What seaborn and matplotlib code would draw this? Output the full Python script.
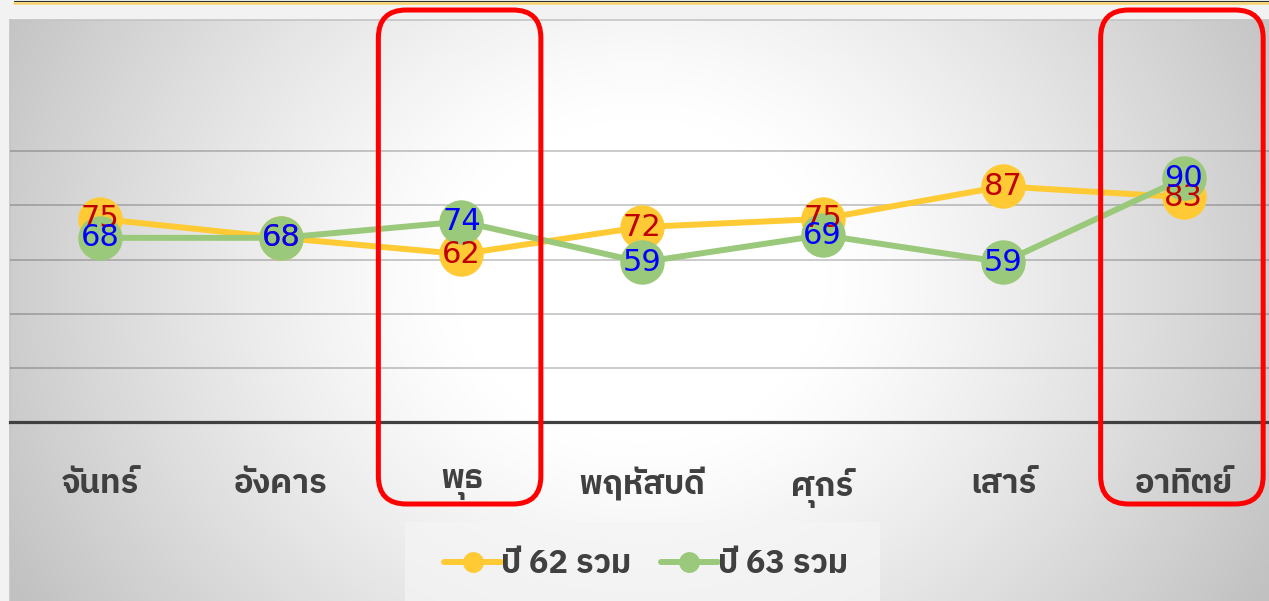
import matplotlib
matplotlib.use("Agg")
import matplotlib.pyplot as plt
import numpy as np
import pandas as pd
import seaborn as sns
from matplotlib import font_manager
from matplotlib.ft2font import FT2Font
from matplotlib.lines import Line2D
from matplotlib.patches import FancyBboxPatch, Rectangle

# data
days = ["จันทร์", "อังคาร", "พุธ", "พฤหัสบดี", "ศุกร์", "เสาร์", "อาทิตย์"]
series_names = ["ปี 62 รวม", "ปี 63 รวม"]
year62 = [75, 68, 62, 72, 75, 87, 83]
year63 = [68, 68, 74, 59, 69, 59, 90]
highlight_days = ["พุธ", "อาทิตย์"]

W, H = 1269, 601
YELLOW = "#ffca33"
GREEN = "#9bc97b"
TEXT = "#404040"


def findThaiFonts():
    names = []
    for f in font_manager.fontManager.ttflist:
        try:
            cmap = FT2Font(f.fname).get_charmap()
        except Exception:
            continue
        if 0x0E1E in cmap and 0x0E2B in cmap and f.name not in names:
            names.append(f.name)
    names.sort(key=lambda n: 0 if "Thai" in n else 1)
    return names


def makeBackground(fig):
    # panel with a soft radial gradient, white in the middle
    bg = fig.add_axes([10 / W, 0, 1 - 10 / W, 1 - 20 / H])
    xs = np.linspace(10, W, 300)
    ys = np.linspace(20, H, 200)
    X, Y = np.meshgrid(xs, ys)
    u = (X - 640) / 630
    v = (Y - 280) / 300 * 0.55
    d = np.sqrt(u ** 2 + v ** 2)
    t = np.clip((d - 0.3) / 0.85, 0, 1) ** 1.2
    g = (255 - 62 * t) / 255
    img = np.dstack([g, g, g])
    bg.imshow(img, extent=[10, W, H, 20], aspect="auto", interpolation="bilinear")
    bg.set_xlim(10, W)
    bg.set_ylim(H, 20)
    bg.set_xticks([])
    bg.set_yticks([])
    for s in ["right", "bottom"]:
        bg.spines[s].set_visible(False)
    for s in ["top", "left"]:
        bg.spines[s].set_color("#c4c4c4")
        bg.spines[s].set_linewidth(1.2)
    # lighter strip behind the legend
    bg.add_patch(Rectangle((405, 522), 475, 80, color="#f5f5f5", lw=0, alpha=0.7))
    return bg


def makeLinePlot(outputName):
    sns.set_theme(style="white")
    thai = findThaiFonts()
    plt.rcParams["font.family"] = thai[:1] + ["DejaVu Sans"]

    fig = plt.figure(figsize=(W / 100, H / 100), dpi=100, facecolor="#f2f2f2")
    fig.add_artist(Line2D([14 / W, 1], [1 - 0.5 / H] * 2, color="#303030", lw=0.8))
    fig.add_artist(Line2D([14 / W, 1], [1 - 2.5 / H] * 2, color="#f7d26a", lw=1.8))
    makeBackground(fig)

    ax = fig.add_axes([10 / W, (H - 422) / H, 1264 / W, (422 - 97) / H])
    ax.set_facecolor("none")

    df = pd.DataFrame({
        "day": days * 2,
        "value": year62 + year63,
        "series": [series_names[0]] * len(days) + [series_names[1]] * len(days),
    })

    sns.lineplot(data=df, x="day", y="value", hue="series",
                 palette=[YELLOW, GREEN], marker="o", markersize=32,
                 markeredgewidth=0, linewidth=4.3, sort=False,
                 legend=False, ax=ax)

    for i, v in enumerate(year62):
        ax.text(i, v, str(v), ha="center", va="center", color="#c00000",
                fontsize=22, family="DejaVu Sans", zorder=5)
    for i, v in enumerate(year63):
        ax.text(i, v, str(v), ha="center", va="center", color="#0000ff",
                fontsize=22, family="DejaVu Sans", zorder=6)

    ax.set_xlim(-0.5, len(days) - 0.5)
    ax.set_ylim(0, 120)
    ax.set_yticks([20, 40, 60, 80, 100])
    ax.set_yticklabels([])
    ax.yaxis.grid(True, color="black", alpha=0.22, lw=1.3)
    ax.set_xlabel("")
    ax.set_ylabel("")
    ax.set_xticks(range(len(days)))
    ax.set_xticklabels(days, fontsize=23.5, color=TEXT, fontweight="bold")
    ax.tick_params(axis="both", length=0)
    ax.tick_params(axis="x", pad=33)
    for s in ["top", "right", "left"]:
        ax.spines[s].set_visible(False)
    ax.spines["bottom"].set_color(TEXT)
    ax.spines["bottom"].set_linewidth(2.3)

    # red highlight boxes round two of the days
    for day in highlight_days:
        i = days.index(day)
        x0 = ax.transData.transform((i - 0.46, 0))[0]
        x1 = ax.transData.transform((i + 0.44, 0))[0]
        box = FancyBboxPatch((x0, H - 504), x1 - x0, 494,
                             boxstyle="round,pad=0,rounding_size=28",
                             fill=False, edgecolor="#ff0000", lw=3.6,
                             transform=None, zorder=10)
        fig.add_artist(box)

    handles = [Line2D([], [], color=c, lw=4.3, marker="o", markersize=15,
                      markeredgewidth=0) for c in (YELLOW, GREEN)]
    leg = fig.legend(handles, series_names, loc="center",
                     bbox_to_anchor=(646 / W, 1 - 564 / H), ncol=2,
                     frameon=False, fontsize=23.5, handlelength=1.75,
                     handletextpad=0.0, columnspacing=0.9)
    for t in leg.get_texts():
        t.set_color(TEXT)
        t.set_fontweight("bold")

    plt.savefig(outputName, dpi=100, facecolor=fig.get_facecolor())
    plt.close()


def main():
    makeLinePlot("out.png")


if __name__ == "__main__":
    main()
